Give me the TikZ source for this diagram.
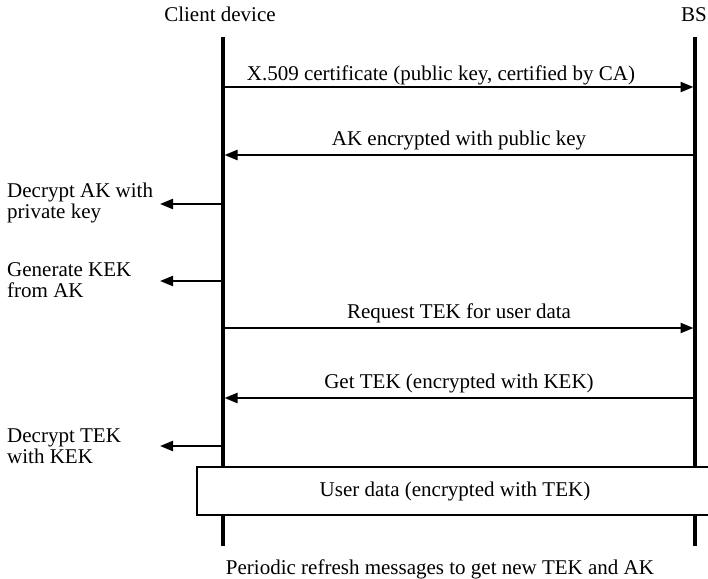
\documentclass[tikz,border=0pt]{standalone}
\usepackage{fontspec}
\setmainfont{Liberation Serif}
\usepackage{tikz}
\usetikzlibrary{calc,positioning,arrows.meta}

\begin{document}
\begin{tikzpicture}[
  x=1pt,y=-1pt,
  font=\fontsize{21}{21}\selectfont,
  actor/.style={anchor=base,inner sep=0pt},
  lifeline/.style={line width=3.4pt},
  msg/.style={line width=2.3pt,-{Triangle[length=13pt,width=10pt]},shorten >=1.5pt},
  msglabel/.style={anchor=base,inner sep=0pt,yshift=10pt},
  selfnote/.style={anchor=west,align=left,inner sep=0pt},
  databox/.style={draw,line width=2.4pt,fill=white,minimum width=516,minimum height=48,inner sep=0pt}
]
  \useasboundingbox (0,0) rectangle (708,578);
  \node[actor] (client) at (220,22) {Client device};
  \node[actor] (bs) at (694,22) {BS};
  \coordinate (cTop) at (223,37);
  \coordinate (cBot) at (223,546);
  \coordinate (bTop) at (695,37);
  \coordinate (bBot) at (695,546);
  \draw[lifeline] (cTop) -- (cBot);
  \draw[lifeline] (bTop) -- (bBot);
  \foreach \n/\y in {m1/87,m2/155,m3/328,m4/398} {
    \coordinate (\n c) at (223,\y);
    \coordinate (\n b) at (695,\y);
  }
  \foreach \n/\y in {s1/204,s2/281,s3/446} {
    \coordinate (\n c) at (223,\y);
    \coordinate (\n t) at (160,\y);
  }
  \draw[msg] (m1c) -- (m1b) node[midway,msglabel,xshift=-18pt,yshift=-3pt] {X.509 certificate (public key, certified by CA)};
  \draw[msg] (m2b) -- (m2c) node[midway,msglabel] {AK encrypted with public key};
  \draw[msg] (m3c) -- (m3b) node[midway,msglabel] {Request TEK for user data};
  \draw[msg] (m4b) -- (m4c) node[midway,msglabel] {Get TEK (encrypted with KEK)};
  \draw[msg,shorten >=0pt] (s1c) -- (s1t);
  \draw[msg,shorten >=0pt] (s2c) -- (s2t);
  \draw[msg,shorten >=0pt] (s3c) -- (s3t);
  \node[selfnote] (decak) at (7,203) {Decrypt AK with\\private key};
  \node[selfnote] (genkek) at (7,280) {Generate KEK\\from AK};
  \node[selfnote] (dectek) at (7,446) {Decrypt TEK\\with KEK};
  \node[databox] (data) at (455,491) {User data (encrypted with TEK)};
  \node[actor] (refresh) at (440,574) {Periodic refresh messages to get new TEK and AK};
\end{tikzpicture}
\end{document}
